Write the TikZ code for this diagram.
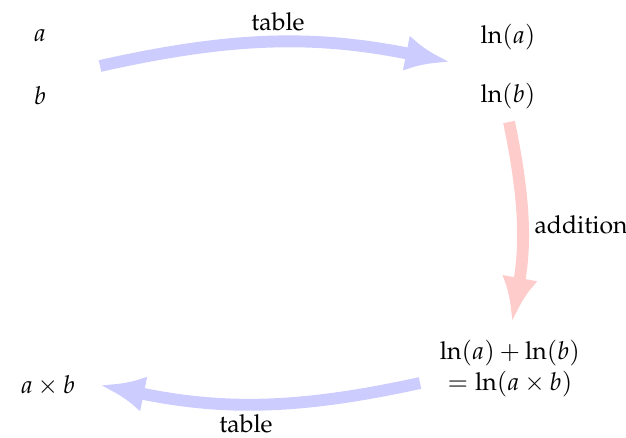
\documentclass[tikz,border=0pt]{standalone}
\usepackage[T1]{fontenc}
\usepackage{mathpazo}
\usetikzlibrary{arrows.meta}
\begin{document}
\begin{tikzpicture}[x=0.404pt,y=-0.404pt,
  lbl/.style={inner sep=0pt},
  thickarrow/.style={line width=4.8pt, -{Latex[length=18pt,width=14.5pt]}},
  bluearrow/.style={thickarrow, draw=blue!20},
  redarrow/.style={thickarrow, draw=red!20}]
\useasboundingbox (0,0) rectangle (626,437);
\node[lbl] (a) at (40,36) {$a$};
\node[lbl] (b) at (40,96) {$b$};
\node[lbl] (lna) at (508,37) {$\ln(a)$};
\node[lbl] (lnb) at (508,96) {$\ln(b)$};
\node[lbl,align=center] (sum) at (510,369) {$\ln(a)+\ln(b)$\\[0.5pt]$=\ln(a\times b)$};
\node[lbl] (prod) at (48,386) {$a\times b$};
\node[lbl] (t1) at (278,22) {table};
\node[lbl] (t2) at (581,225) {addition};
\node[lbl] (t3) at (246,424) {table};
\coordinate (s1) at (100,66);
\coordinate (e1) at (450,62);
\coordinate (s2) at (509,122);
\coordinate (e2) at (512,322);
\coordinate (s3) at (420,383);
\coordinate (e3) at (100,385);
\draw[bluearrow] (s1) to[bend left=12] (e1);
\draw[redarrow] (s2) to[bend left=11] (e2);
\draw[bluearrow] (s3) to[bend left=12] (e3);
\end{tikzpicture}
\end{document}
